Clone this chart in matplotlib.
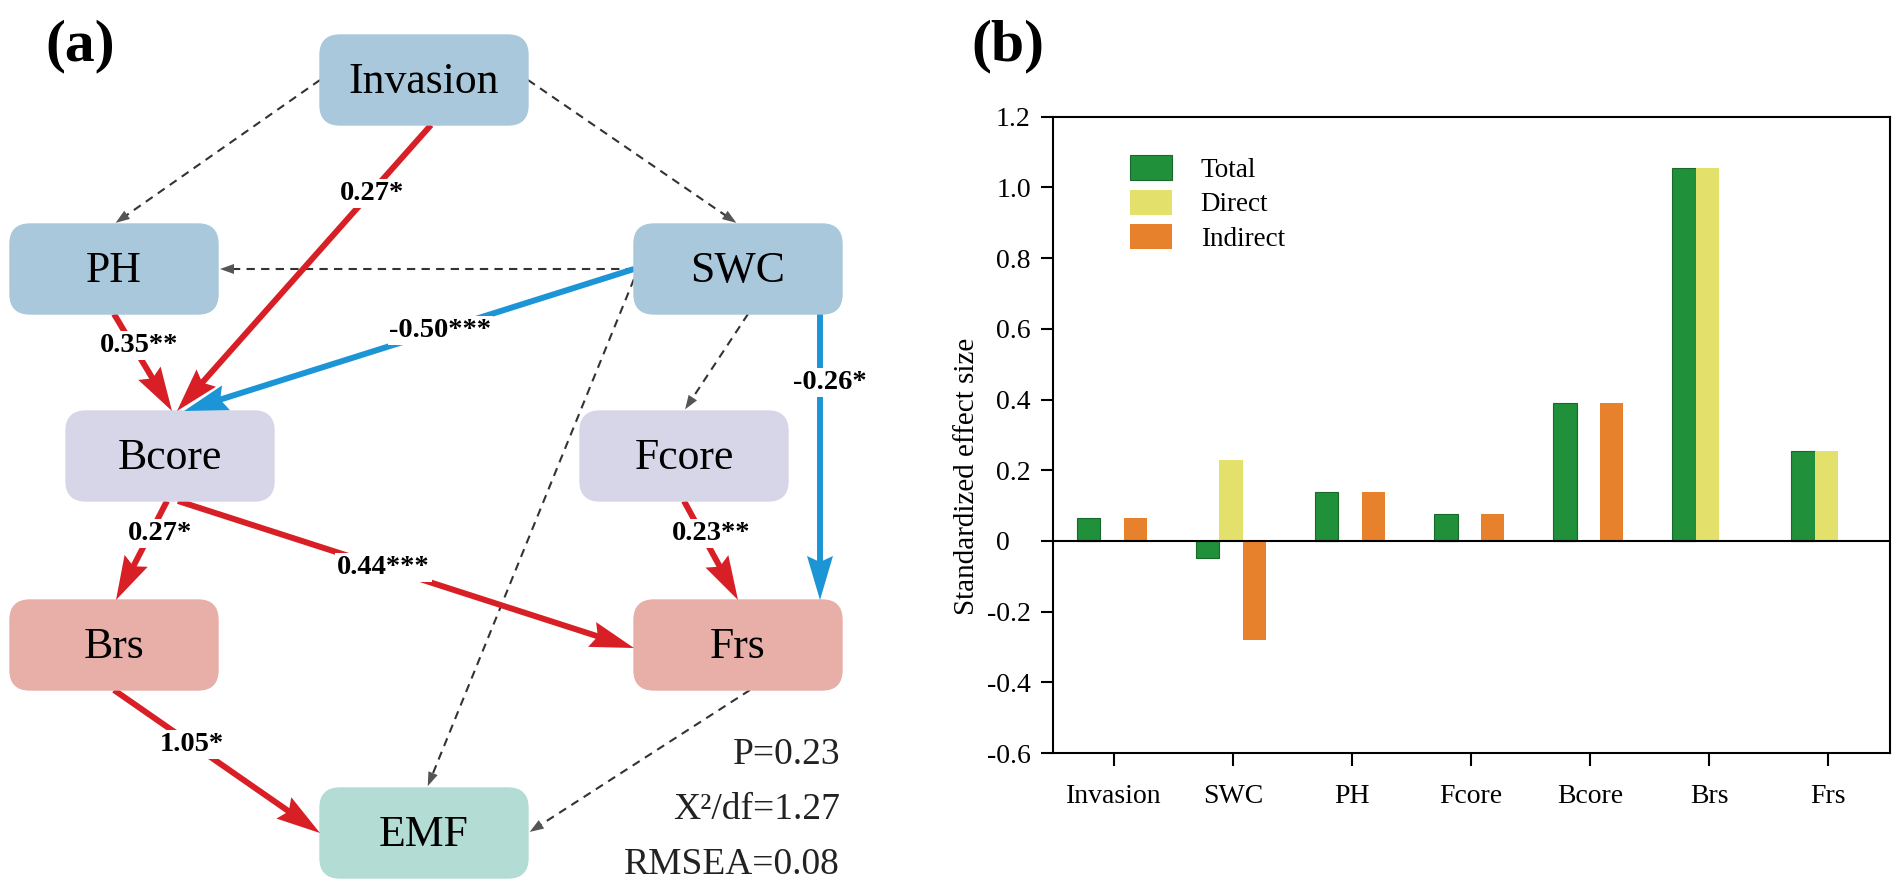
"""
SEM path diagram (a) + standardized effect bars (b)
"""
import numpy as np
import matplotlib
matplotlib.use('Agg')
import matplotlib.pyplot as plt
from matplotlib.patches import FancyBboxPatch, Polygon

plt.rcParams['font.family'] = ['Liberation Serif', 'DejaVu Serif']
plt.rcParams['axes.unicode_minus'] = False

W, H = 1901, 889

# ── panel (b) data ─────────────────────────────────────────────
categories = ['Invasion', 'SWC', 'PH', 'Fcore', 'Bcore', 'Brs', 'Frs']
total      = [0.065, -0.048, 0.138, 0.076, 0.391, 1.055, 0.254]
direct     = [0.0, 0.230, 0.0, 0.0, 0.0, 1.055, 0.254]
indirect   = [0.065, -0.281, 0.138, 0.076, 0.391, 0.0, 0.0]
series_names = ['Total', 'Direct', 'Indirect']
yticks      = [1.2, 1.0, 0.8, 0.6, 0.4, 0.2, 0.0, -0.2, -0.4, -0.6]
ytick_text  = ['1.2', '1.0', '0.8', '0.6', '0.4', '0.2', '0\u2008\u2007',
               '-0.2', '-0.4', '-0.6']

# ── panel (a) data ─────────────────────────────────────────────
node_names = ['Invasion', 'PH', 'SWC', 'Bcore', 'Fcore', 'Brs', 'Frs', 'EMF']
# edges: source, target, coefficient label (None = not significant)
path_src  = ['Invasion', 'Invasion', 'SWC', 'Invasion', 'PH', 'SWC', 'SWC',
             'SWC', 'SWC', 'Bcore', 'Bcore', 'Fcore', 'Brs', 'Frs']
path_dst  = ['PH', 'SWC', 'PH', 'Bcore', 'Bcore', 'Bcore', 'Fcore',
             'EMF', 'Frs', 'Brs', 'Frs', 'Frs', 'EMF', 'EMF']
path_coef = [None, None, None, '0.27*', '0.35**', '-0.50***', None,
             None, '-0.26*', '0.27*', '0.44***', '0.23**', '1.05*', None]
fit_stats = ['P=0.23', 'X\u00b2/df=1.27', 'RMSEA=0.08']

# ── layout of the diagram (pixels) ─────────────────────────────
BOX_W, BOX_H = 208, 90
node_xy = {'Invasion': (424, 80), 'PH': (114, 269), 'SWC': (738, 269),
           'Bcore': (170, 456), 'Fcore': (684, 456), 'Brs': (114, 645),
           'Frs': (738, 645), 'EMF': (424, 833)}
node_fc = {'Invasion': '#AAC8DC', 'PH': '#AAC8DC', 'SWC': '#AAC8DC',
           'Bcore': '#D7D6E9', 'Fcore': '#D7D6E9',
           'Brs': '#E8AEA8', 'Frs': '#E8AEA8', 'EMF': '#B3DCD4'}
# anchor side/offset at source and target, label position along path, label dx
path_geom = [('left', 0, 'top', 0, 0, 0), ('right', 0, 'top', 0, 0, 0),
             ('left', 0, 'right', 0, 0, 0), ('bottom', 7, 'top', 7, 0.24, 2),
             ('bottom', 0, 'top', 2, 0.32, 7), ('left', 0, 'top', 14, 0.43, 0),
             ('bottom', 10, 'top', 0, 0, 0), ('left', 10, 'top', 3, 0, 0),
             ('bottom', 82, 'top', 82, 0.24, 10), ('bottom', -3, 'top', 2, 0.33, 10),
             ('bottom', 8, 'left', 3, 0.45, 0), ('bottom', 0, 'top', 0, 0.33, 9),
             ('bottom', 0, 'left', 0, 0.38, 0), ('bottom', 12, 'right', 0, 0, 0)]

RED, BLUE = '#D91F26', '#1C95D6'

fig = plt.figure(figsize=(W / 100, H / 100), dpi=100)

ax0 = fig.add_axes([0, 0, 1, 1])
ax0.set_xlim(0, W); ax0.set_ylim(H, 0); ax0.axis('off')

def anchor(name, side, off):
    cx, cy = node_xy[name]
    if side == 'top':    return np.array([cx + off, cy - BOX_H / 2])
    if side == 'bottom': return np.array([cx + off, cy + BOX_H / 2])
    if side == 'left':   return np.array([cx - BOX_W / 2, cy + off])
    return np.array([cx + BOX_W / 2, cy + off])

def draw_arrow(p0, p1, color, lw, hl, hw, notch=0, dashed=False, head_col=None):
    d = p1 - p0; u = d / np.hypot(*d); n = np.array([-u[1], u[0]])
    base = p1 - u * hl
    stop = base + u * (notch + 1)
    ax0.plot([p0[0], stop[0]], [p0[1], stop[1]], color=color, lw=lw,
             ls=(0, (4, 3)) if dashed else '-', solid_capstyle='butt',
             dash_capstyle='butt', zorder=1)
    head = Polygon([p1, base + n * hw, base + u * notch, base - n * hw],
                   closed=True, fc=head_col or color, ec='none', zorder=3)
    ax0.add_patch(head)

for s, t, c, g in zip(path_src, path_dst, path_coef, path_geom):
    p0 = anchor(s, g[0], g[1]); p1 = anchor(t, g[2], g[3])
    if c is None:
        draw_arrow(p0, p1 + (p0 - p1) / np.hypot(*(p0 - p1)) * 2, '#333333',
                   1.5, 14, 5, dashed=True, head_col='#555555')
        continue
    col = BLUE if c.startswith('-') else RED
    draw_arrow(p0, p1, col, 4.3, 44, 13, notch=6)
    lx, ly = p0 + (p1 - p0) * g[4]
    ax0.text(lx + g[5], ly, c, ha='center', va='center', fontsize=20.5,
             fontweight='bold', zorder=4,
             bbox=dict(fc='white', ec='none', pad=1.5))

for name in node_names:
    cx, cy = node_xy[name]
    box = FancyBboxPatch((cx - BOX_W / 2, cy - BOX_H / 2), BOX_W, BOX_H,
                         boxstyle='round,pad=0,rounding_size=20',
                         fc=node_fc[name], ec=node_fc[name], lw=1, zorder=2)
    ax0.add_patch(box)
    ax0.text(cx, cy + 2, name, ha='center', va='center', fontsize=31.5, zorder=5)

for i, st in enumerate(fit_stats):
    ax0.text(840, 755 + 55 * i, st, ha='right', va='center', fontsize=27,
             color='#222222')

ax0.text(80, 46, '(a)', ha='center', va='center', fontsize=43, fontweight='bold')
ax0.text(1008, 46, '(b)', ha='center', va='center', fontsize=43, fontweight='bold')

# ── panel (b) ─────────────────────────────────────────────────
ax = fig.add_axes([1053 / W, 1 - 753 / H, (1890 - 1053) / W, (753 - 116.7) / H])
x = np.arange(len(categories))
bw, shift = 0.195, -0.015
ax.bar(x + shift - bw, total, bw, color='#21903A', edgecolor='#176A2B', lw=0.8,
       label=series_names[0], zorder=2)
ax.bar(x + shift, direct, bw, color='#E4E06C', edgecolor='none',
       label=series_names[1], zorder=2)
ax.bar(x + shift + bw, indirect, bw, color='#E8812C', edgecolor='none',
       label=series_names[2], zorder=2)
ax.axhline(0, color='black', lw=1.5, zorder=3)

ax.set_xlim(-0.51, 6.52)
ax.set_ylim(-0.6, 1.2)
ax.set_xticks(x)
ax.set_xticklabels(categories, fontsize=20)
ax.set_yticks(yticks)
ax.set_yticklabels(ytick_text, fontsize=20)
ax.tick_params(axis='both', direction='out', length=9, width=1.5)
ax.tick_params(axis='y', pad=7)
ax.tick_params(axis='x', pad=13)
for sp in ax.spines.values():
    sp.set_linewidth(1.5)
ax.set_ylabel('Standardized effect size', fontsize=21)
ax.yaxis.set_label_coords(-0.087, 0.435)

ax.legend(loc='upper left', bbox_to_anchor=(0.092, 0.94), frameon=False,
          fontsize=19.5, handlelength=1.55, handleheight=1.06, handletextpad=1.06,
          labelspacing=0.25, borderpad=0, borderaxespad=0)

fig.savefig('out.png', dpi=100)
